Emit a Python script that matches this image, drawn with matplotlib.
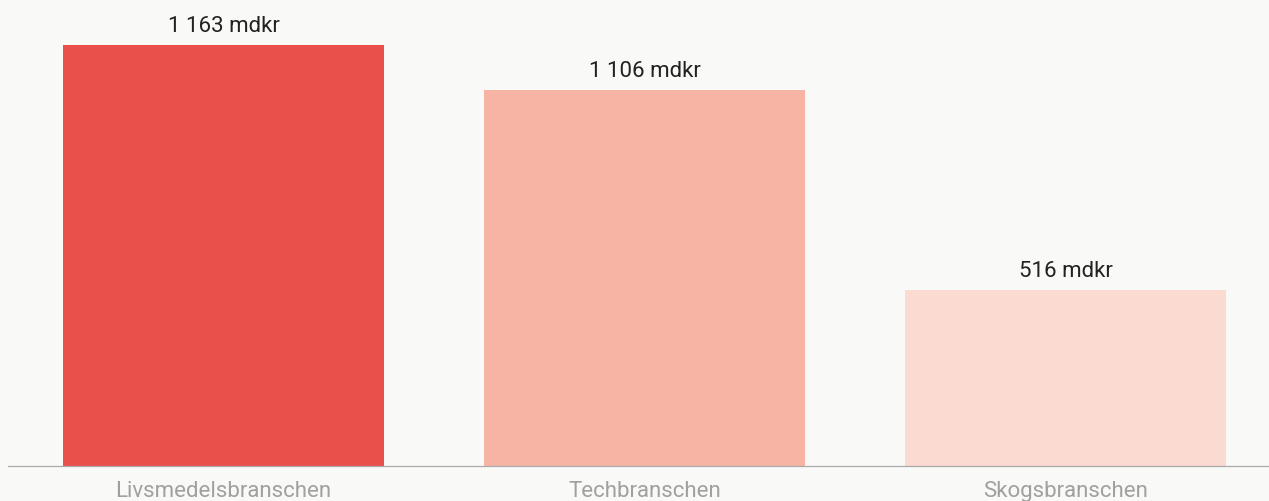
import matplotlib.pyplot as plt

# data
categories = ["Livsmedelsbranschen", "Techbranschen", "Skogsbranschen"]
values_mdkr = [1163, 1106, 516]
# drawn bar heights (the original bars are not to scale with their labels)
bar_heights = [1163, 1039, 486]
colors = ["#EA504B", "#F7B4A5", "#FBDAD1"]

plt.rcParams['font.family'] = ['Roboto', 'DejaVu Sans']

fig = plt.figure(figsize=(12.69, 5.02), dpi=100)
fig.patch.set_facecolor("#F9F9F7")
ax = fig.add_axes([8 / 1269, 35 / 502, 1261 / 1269, 467 / 502])
ax.set_facecolor("#F9F9F7")

x = list(range(len(categories)))
bars = ax.bar(x, bar_heights, width=0.7625, color=colors)

for b, v in zip(bars, values_mdkr):
    lbl = f"{v:,} mdkr".replace(",", " ")
    ax.annotate(lbl, (b.get_x() + b.get_width() / 2, b.get_height()),
                xytext=(0, 6.5), textcoords="offset points",
                ha="center", va="bottom", fontsize=16, color="#222222")

ax.set_xlim(-0.512, 2.483)
ax.set_ylim(0, 1163 * 467 / 421)
ax.set_xticks(x)
ax.set_xticklabels(categories, fontsize=16, color="#A0A0A0")
ax.tick_params(axis="x", length=0, pad=10)
ax.set_yticks([])
for s in ["top", "right", "left"]:
    ax.spines[s].set_visible(False)
ax.spines["bottom"].set_color("#AAAAAA")
ax.spines["bottom"].set_linewidth(0.9)

plt.savefig("out.png", dpi=100, facecolor=fig.get_facecolor())
